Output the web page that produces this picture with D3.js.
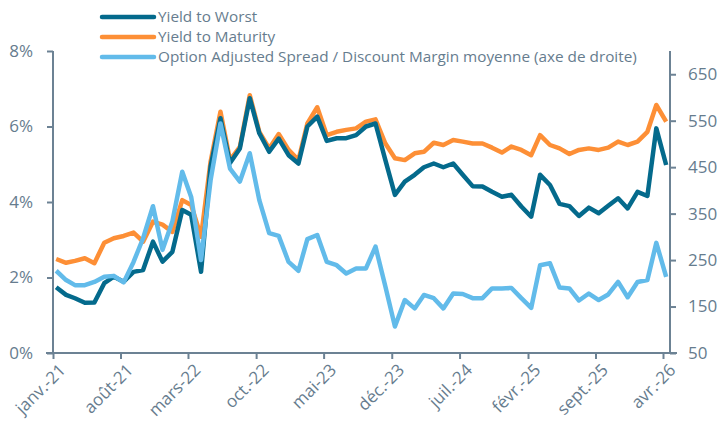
<!DOCTYPE html>
<html><head><meta charset="utf-8">
<script src="https://cdn.jsdelivr.net/npm/d3@7"></script>
<style>body{margin:0;background:#fff}svg{display:block}text{font-family:"Open Sans",sans-serif}</style>
</head><body><svg id="c" width="720" height="423"></svg>
<script>
const startYear = 2021, startMonth = 0; // monthly series from Jan 2021
const ytw = [1.74,1.54,1.45,1.33,1.34,1.85,2.02,1.89,2.15,2.2,2.95,2.42,2.68,3.79,3.66,2.15,4.94,6.22,5.03,5.42,6.75,5.82,5.33,5.68,5.24,5.02,6.0,6.26,5.62,5.69,5.69,5.77,6.0,6.08,5.11,4.19,4.54,4.72,4.92,5.02,4.92,5.02,4.72,4.42,4.41,4.27,4.14,4.19,3.88,3.61,4.72,4.45,3.95,3.89,3.63,3.85,3.70,3.90,4.10,3.83,4.27,4.16,5.95,4.98];
const ytm = [2.49,2.39,2.44,2.51,2.38,2.92,3.04,3.10,3.19,2.95,3.48,3.4,3.21,4.05,3.92,3.08,5.07,6.39,5.11,5.46,6.83,5.86,5.42,5.8,5.38,5.11,6.08,6.51,5.77,5.86,5.91,5.95,6.13,6.19,5.55,5.16,5.11,5.29,5.33,5.57,5.51,5.64,5.6,5.55,5.55,5.44,5.31,5.47,5.38,5.24,5.77,5.51,5.42,5.27,5.38,5.42,5.38,5.44,5.60,5.51,5.60,5.86,6.57,6.13];
const oas = [227,207,196,196,203,214,216,202,246,297,366,272,333,440,386,250,422,544,447,419,480,379,308,302,246,227,295,304,246,239,221,232,232,279,193,107,164,146,175,168,146,178,177,168,168,189,189,190,168,147,239,243,191,189,163,178,164,176,203,170,203,207,287,214];
const leftTicks = [0,2,4,6,8];
const rightTicks = [50,150,250,350,450,550,650];
const xTickLabels = ["janv.-21","août-21","mars-22","oct.-22","mai-23","déc.-23","juil.-24","févr.-25","sept.-25","avr.-26"];
const xTickDates = [[2021,0],[2021,7],[2022,2],[2022,9],[2023,4],[2023,11],[2024,6],[2025,1],[2025,8],[2026,3]];
const seriesNames = ["Yield to Worst","Yield to Maturity","Option Adjusted Spread / Discount Margin moyenne (axe de droite)"];
const colors = ["#046a8c","#fd8f36","#62bbea"];

const dates = ytw.map((d,i)=>new Date(startYear, startMonth+i, 11));
const svg = d3.select("#c");
const axisCol = "#6c8294", textCol = "#667c8e";
const x = d3.scaleTime().domain([new Date(2021,0,1), new Date(2026,3,1)]).range([53,663]);
const yL = d3.scaleLinear().domain([0,8]).range([353,51]);
const yR = d3.scaleLinear().domain([50,700]).range([353,51]);

// axes
const gL = svg.append("g").attr("transform","translate(53,0)")
  .call(d3.axisLeft(yL).tickValues(leftTicks).tickFormat(d=>d+"%").tickSize(6).tickPadding(14));
const gR = svg.append("g").attr("transform","translate(670,0)")
  .call(d3.axisRight(yR).tickValues(rightTicks).tickSize(6).tickPadding(12));
const gX = svg.append("g").attr("transform","translate(0,353)")
  .call(d3.axisBottom(x).tickValues(xTickDates.map(d=>new Date(d[0],d[1],1))).tickFormat((d,i)=>xTickLabels[i]).tickSize(6).tickSizeOuter(0));
[gL,gR,gX].forEach(g=>{
  g.selectAll("path.domain").attr("stroke",axisCol).attr("stroke-width",2);
  g.selectAll(".tick line").attr("stroke",axisCol).attr("stroke-width",2);
  g.selectAll("text").attr("fill",textCol).style("font-size","17px").style("font-family","'Open Sans',sans-serif");
});
gL.select("path.domain").attr("d","M0,51V353");
gR.select("path.domain").attr("d","M0,51V353");
gX.select("path.domain").attr("d","M46,0H677");
gX.selectAll(".tick text").attr("text-anchor","end").attr("dy","0.35em").attr("y",0)
  .attr("transform","translate(9,14) rotate(-45)");

// lines
const lineL = d3.line().x((d,i)=>x(dates[i])).y(d=>yL(d));
const lineR = d3.line().x((d,i)=>x(dates[i])).y(d=>yR(d));
const plot = svg.append("g");
plot.append("path").datum(ytm).attr("d",lineL).attr("fill","none").attr("stroke",colors[1]).attr("stroke-width",4.5).attr("stroke-linejoin","round");
plot.append("path").datum(ytw).attr("d",lineL).attr("fill","none").attr("stroke",colors[0]).attr("stroke-width",4.5).attr("stroke-linejoin","round");
plot.append("path").datum(oas).attr("d",lineR).attr("fill","none").attr("stroke",colors[2]).attr("stroke-width",4.5).attr("stroke-linejoin","round");

// legend
const lg = svg.append("g");
seriesNames.forEach((n,i)=>{
  const yy = 17 + i*20;
  lg.append("line").attr("x1",102).attr("x2",154).attr("y1",yy).attr("y2",yy).attr("stroke",colors[i]).attr("stroke-width",4.5).attr("stroke-linecap","round");
  lg.append("text").attr("x",158).attr("y",yy).attr("dy","0.35em").attr("fill",textCol).style("font-size","15.3px").text(n);
});
</script></body></html>
